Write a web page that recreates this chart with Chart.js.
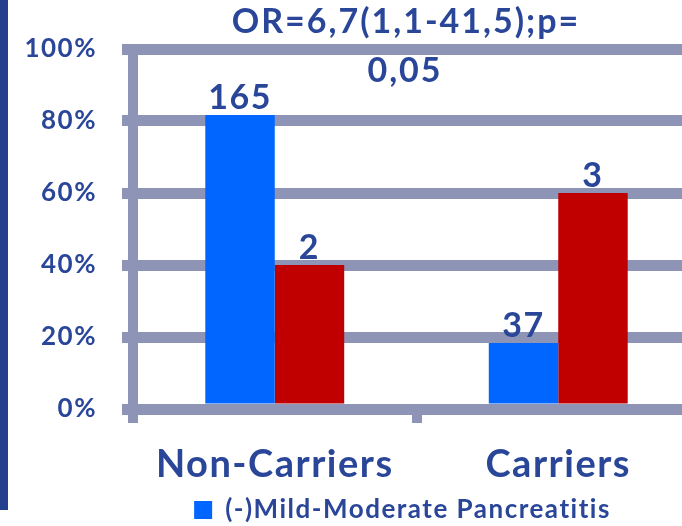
<!DOCTYPE html>
<html><head><meta charset="utf-8">
<script src="https://cdn.jsdelivr.net/npm/chart.js@4/dist/chart.umd.min.js"></script>
<style>
html,body{margin:0;padding:0;overflow:hidden;background:#fff;width:682px;height:526px;}
#wrap{position:relative;width:682px;height:526px;overflow:hidden;background:#fff;}
#bar{position:absolute;left:0;top:0;width:8px;height:510px;background:#253f8f;z-index:2;}
canvas{position:absolute;left:0;top:0;}
</style></head><body>
<div id="wrap"><div id="bar"></div><canvas id="c" width="798" height="526"></canvas></div>
<script>
const categories = ['Non-Carriers', 'Carriers'];
const seriesNames = ['(-)Mild-Moderate Pancreatitis', '(+)Severe Pancreatitis'];
const mildPercent = [81.7, 18.3];
const severePercent = [40, 60];
const mildCounts = [165, 37];
const severeCounts = [2, 3];
const yTickValues = [0, 20, 40, 60, 80, 100];
const titleLines = ['OR=6,7(1,1-41,5);p=', '0,05'];

const textColor = '#2a4699';
const gridColor = '#8d94b5';
const blue = '#0066ff';
const red = '#c00000';
const FONT = 'Lato, "Open Sans", sans-serif';

const spacing = {
  id: 'spacing',
  afterInit(chart) {
    if ('letterSpacing' in chart.ctx) chart.ctx.letterSpacing = '1.5px';
  }
};

const overlay = {
  id: 'overlay',
  afterDatasetsDraw(chart) {
    const ctx = chart.ctx;
    ctx.save();
    ctx.fillStyle = textColor;
    ctx.textAlign = 'center';
    ctx.textBaseline = 'alphabetic';
    ctx.font = 'bold 34px ' + FONT;
    const counts = [mildCounts, severeCounts];
    chart.data.datasets.forEach((ds, i) => {
      chart.getDatasetMeta(i).data.forEach((el, j) => {
        ctx.fillText(String(counts[i][j]), el.x, el.y - 6);
      });
    });
    ctx.restore();
  },
  afterDraw(chart) {
    const ctx = chart.ctx;
    ctx.save();
    if ('letterSpacing' in ctx) ctx.letterSpacing = '2px';
    ctx.fillStyle = textColor;
    ctx.textAlign = 'center';
    ctx.textBaseline = 'alphabetic';
    ctx.font = 'bold 34px ' + FONT;
    ctx.fillText(titleLines[0], 406, 33);
    ctx.fillText(titleLines[1], 405, 82);
    ctx.restore();
  }
};

new Chart(document.getElementById('c'), {
  type: 'bar',
  data: {
    labels: categories,
    datasets: [
      { label: seriesNames[0], data: mildPercent, backgroundColor: blue, borderWidth: 0 },
      { label: seriesNames[1], data: severePercent, backgroundColor: red, borderWidth: 0 }
    ]
  },
  options: {
    responsive: false,
    animation: false,
    devicePixelRatio: 1,
    categoryPercentage: 0.49,
    barPercentage: 1.0,
    layout: { padding: { left: 7, top: 49, right: 0, bottom: -7 } },
    plugins: {
      title: { display: false },
      tooltip: { enabled: false },
      legend: {
        position: 'bottom',
        labels: {
          color: textColor,
          font: { family: FONT, size: 26, weight: 'bold' },
          boxWidth: 18,
          boxHeight: 18,
          padding: 4,
          filter: (item) => item.datasetIndex === 0
        }
      }
    },
    scales: {
      x: {
        z: 1,
        grid: { display: true, drawOnChartArea: false, drawTicks: true, tickLength: 14, lineWidth: 10, color: gridColor, tickColor: gridColor },
        border: { display: true, width: 11, color: gridColor },
        ticks: { color: textColor, font: { family: FONT, size: 38, weight: 'bold' }, padding: 19 },
        afterFit: (s) => { s.height = 84; }
      },
      y: {
        min: 0, max: 100,
        afterBuildTicks: (s) => { s.ticks = yTickValues.map(v => ({ value: v })); },
        grid: { color: gridColor, lineWidth: 11, tickLength: 11, tickColor: gridColor },
        border: { display: true, width: 10, color: gridColor },
        ticks: { color: textColor, font: { family: FONT, size: 26, weight: 'bold' }, padding: 25, callback: (v) => v + '%' },
        afterFit: (s) => { s.width = 126; }
      },
      y2: {
        position: 'right',
        display: true,
        grid: { display: false, drawTicks: false },
        ticks: { display: false },
        border: { display: false },
        afterFit: (s) => { s.width = 98; }
      }
    }
  },
  plugins: [spacing, overlay]
});
</script>
</body></html>
